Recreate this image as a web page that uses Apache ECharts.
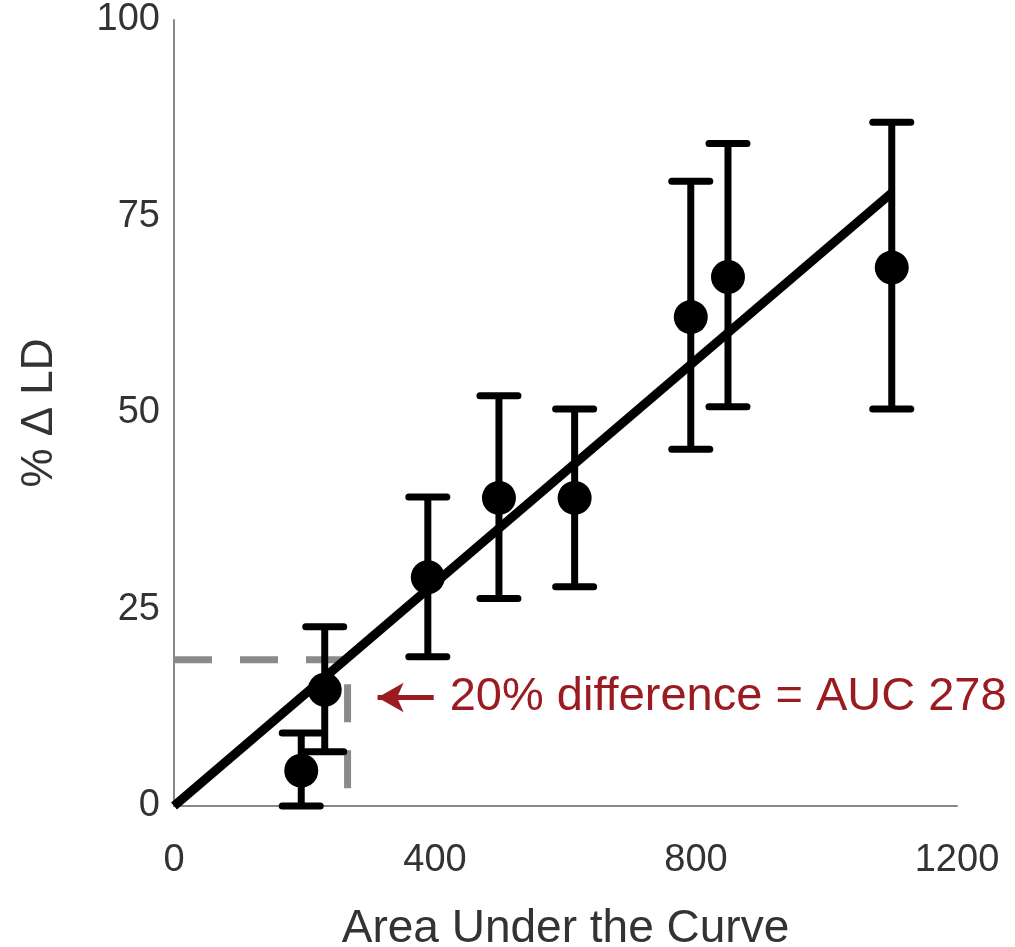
<!DOCTYPE html>
<html>
<head>
<meta charset="utf-8">
<script src="https://cdn.jsdelivr.net/npm/echarts@6/dist/echarts.min.js"></script>
<style>
  html, body { margin: 0; padding: 0; background: #fff; }
  #chart { width: 1015px; height: 947px; }
</style>
</head>
<body>
<div id="chart"></div>
<script>
// data
var auc = [195, 231, 389, 498, 614, 792, 849, 1100];
var pctLD = [4.5, 14.8, 29.1, 39.2, 39.2, 62.2, 67.3, 68.5];
var errLow = [0, 6.9, 19.0, 26.4, 27.9, 45.4, 50.8, 50.5];
var errHigh = [9.3, 22.8, 39.3, 52.2, 50.5, 79.5, 84.3, 87.0];
var fitLine = [[0, 0], [1100, 78]];
var cutoffLine = [[0, 18.6], [266, 18.6], [266, 0]];
var arrowFrom = [398, 13.8];
var arrowTo = [312, 13.8];
var noteText = '20% difference = AUC 278';
var xTicks = [0, 400, 800, 1200];
var yTicks = [0, 25, 50, 75, 100];

var chart = echarts.init(document.getElementById('chart'));

var points = auc.map(function (x, i) { return [x, pctLD[i]]; });
var bars = auc.map(function (x, i) { return [x, errLow[i], errHigh[i]]; });

var option = {
  animation: false,
  grid: { left: 174, right: 58, top: 20, bottom: 141, outerBoundsMode: 'none', containLabel: false },
  xAxis: {
    type: 'value',
    min: xTicks[0],
    max: xTicks[xTicks.length - 1],
    interval: 400,
    name: 'Area Under the Curve',
    nameLocation: 'middle',
    nameGap: 100,
    nameTextStyle: { fontSize: 46, color: '#333', fontFamily: 'Liberation Sans' },
    axisLine: { lineStyle: { color: '#888', width: 2 } },
    axisTick: { show: false },
    splitLine: { show: false },
    axisLabel: {
      fontSize: 38, color: '#333', margin: 36, fontFamily: 'Liberation Sans',
      formatter: function (v) { return String(v); }
    }
  },
  yAxis: {
    type: 'value',
    min: yTicks[0],
    max: yTicks[yTicks.length - 1],
    interval: 25,
    name: '% Δ LD',
    nameLocation: 'middle',
    nameRotate: 90,
    nameGap: 112,
    nameTextStyle: { fontSize: 44, color: '#333', fontFamily: 'Liberation Sans' },
    axisLine: { show: true, lineStyle: { color: '#888', width: 2 } },
    axisTick: { show: false },
    splitLine: { show: false },
    axisLabel: { fontSize: 38, color: '#333', margin: 14, fontFamily: 'Liberation Sans' }
  },
  series: [
    {
      // grey dashed cut-off
      type: 'line',
      data: cutoffLine,
      symbol: 'none',
      lineStyle: { color: '#8a8a8a', width: 7, type: [38, 28] },
      z: 1
    },
    {
      type: 'line',
      data: fitLine,
      symbol: 'none',
      lineStyle: { color: '#000', width: 9 },
      z: 2
    },
    {
      type: 'custom',
      data: bars,
      z: 3,
      renderItem: function (params, api) {
        var x = api.value(0);
        var lo = api.coord([x, api.value(1)]);
        var hi = api.coord([x, api.value(2)]);
        var cap = 19;
        var st = { stroke: '#000', lineWidth: 7, lineCap: 'round' };
        return {
          type: 'group',
          children: [
            { type: 'line', shape: { x1: lo[0], y1: lo[1], x2: hi[0], y2: hi[1] }, style: { stroke: '#000', lineWidth: 7 } },
            { type: 'line', shape: { x1: lo[0] - cap, y1: lo[1], x2: lo[0] + cap, y2: lo[1] }, style: st },
            { type: 'line', shape: { x1: hi[0] - cap, y1: hi[1], x2: hi[0] + cap, y2: hi[1] }, style: st }
          ]
        };
      }
    },
    {
      type: 'scatter',
      data: points,
      symbolSize: 34,
      itemStyle: { color: '#000', opacity: 1 },
      z: 4
    },
    {
      // annotation
      type: 'scatter',
      data: [arrowFrom],
      symbolSize: 0,
      itemStyle: { opacity: 1 },
      label: {
        show: true,
        position: 'right',
        distance: 16,
        formatter: noteText,
        fontSize: 47,
        color: '#9b1c20',
        fontFamily: 'Liberation Sans'
      },
      markLine: {
        silent: true,
        symbol: ['none', 'arrow'],
        symbolSize: [22, 26],
        label: { show: false },
        lineStyle: { color: '#9b1c20', width: 5, type: 'solid', opacity: 1 },
        data: [[{ coord: arrowFrom }, { coord: arrowTo }]]
      },
      z: 5
    }
  ]
};

chart.setOption(option);
</script>
</body>
</html>
